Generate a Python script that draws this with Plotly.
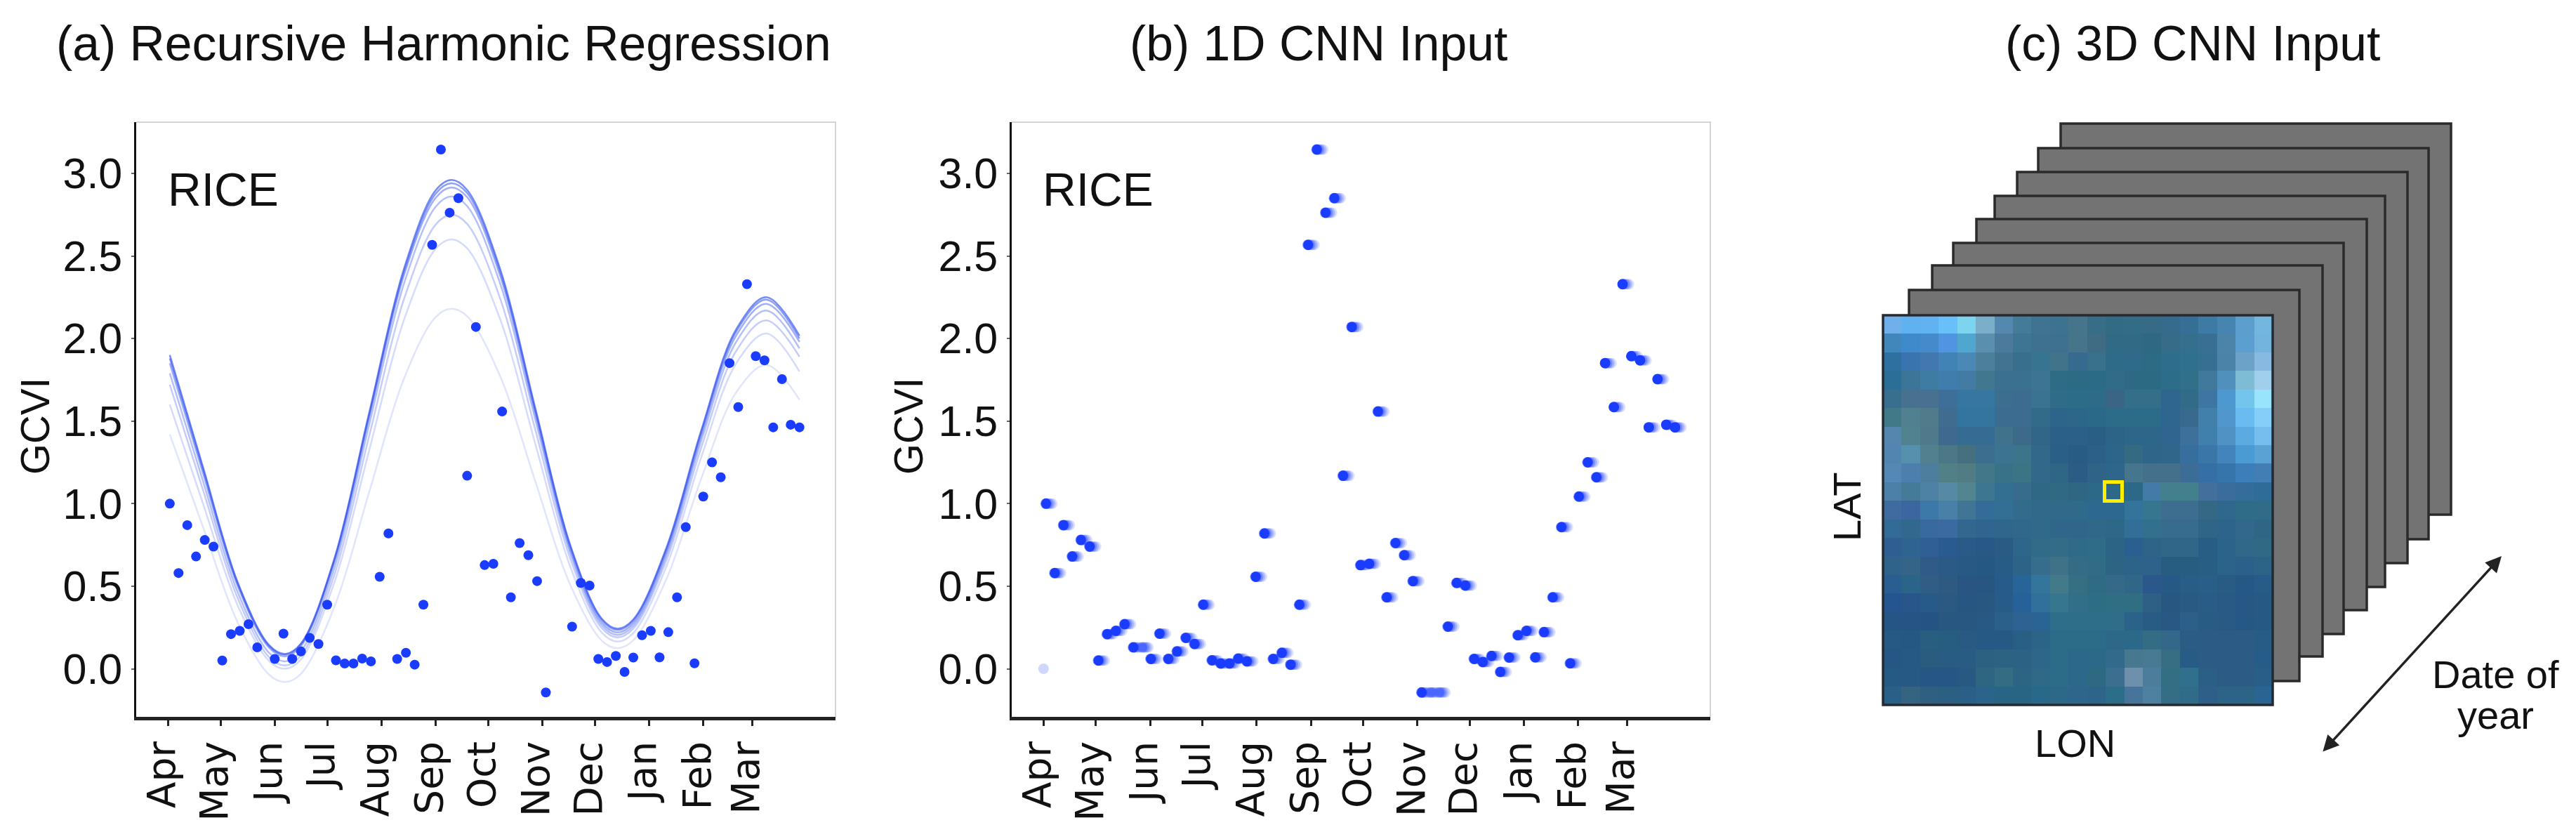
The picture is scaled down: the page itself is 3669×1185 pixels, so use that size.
import plotly.graph_objects as go

W, H = 3669, 1185
BLUE = "#1a3cff"
LINE = "#3050f0"

# ---------- data ----------
months = ["Apr", "May", "Jun", "Jul", "Aug", "Sep", "Oct", "Nov", "Dec", "Jan", "Feb", "Mar"]
month_days = [0, 30, 61, 91, 122, 153, 183, 214, 244, 275, 306, 334]
y_ticks = [0.0, 0.5, 1.0, 1.5, 2.0, 2.5, 3.0]

gcvi = [1.0, .58, .87, .68, .78, .74, .05, .21, .23, .27, .13, None, .06, .2125, .06, .105, .187, .15, .388,
        .051, .032, .032, .062, .045, .557, .82, .06, .097, .025, .388, 2.567, 3.144, 2.762, 2.85, 1.169, 2.07,
        .628, .636, 1.558, .433, .761, .688, .531, -.143, None, None, .255, .52, .504, .06, .041, .078, -.019,
        .068, .203, .23, .069, .222, .433, .858, .033, 1.043, 1.25, 1.16, 1.851, 1.585, 2.329, 1.893, 1.868,
        1.462, 1.754, 1.478, 1.462]
sample_days = list(range(1, 366, 5))

curve_days = [1, 20, 40, 58, 67, 76, 95, 115, 135, 153, 162, 171, 190, 210, 230, 248, 257, 266, 285, 305, 325, 342, 361]
curve1 = [1.90, 1.221, .519, .141, .09, .153, .664, 1.551, 2.426, 2.897, 2.96, 2.900, 2.417, 1.577, .748, .303, .243, .299, .735, 1.449, 2.059, 2.25, 2.017]
curve2 = [1.88, 1.207, .510, .135, .085, .148, .656, 1.538, 2.409, 2.877, 2.94, 2.881, 2.399, 1.563, .738, .295, .235, .291, .725, 1.437, 2.045, 2.235, 2.00]
curve3 = [1.85, 1.184, .496, .125, .075, .137, .643, 1.521, 2.387, 2.852, 2.915, 2.856, 2.376, 1.543, .721, .279, .22, .276, .708, 1.416, 2.021, 2.21, 1.98]
curve4 = [1.79, 1.136, .459, .094, .045, .107, .608, 1.478, 2.336, 2.798, 2.86, 2.802, 2.329, 1.509, .699, .263, .205, .260, .686, 1.386, 1.983, 2.17, 1.94]
curve5 = [1.72, 1.083, .423, .068, .02, .08, .566, 1.41, 2.242, 2.69, 2.75, 2.694, 2.238, 1.447, .666, .246, .19, .244, .66, 1.344, 1.928, 2.11, 1.89]
curve6 = [1.60, 1.0, .379, .045, 0, .057, .52, 1.323, 2.116, 2.543, 2.60, 2.546, 2.113, 1.361, .618, .219, .165, .217, .622, 1.286, 1.853, 2.03, 1.80]
curve7 = [1.42, .858, .276, -.038, -.08, -.03, .372, 1.07, 1.76, 2.13, 2.18, 2.135, 1.769, 1.134, .507, .170, .125, .173, .545, 1.156, 1.677, 1.84, 1.63]
curves = [curve7, curve6, curve5, curve4, curve3, curve2, curve1]
curve_opacity = [.14, .2, .28, .36, .45, .55, .65]

image_rows = [
    "6FB0EA 5FB1F0 60B2F0 68C0FA 7DD4EE 7BAFC9 5488AF 447C97 3F7390 3E7390 45748B 386D87 326C84 326D85 376B85 366B8E 366F96 3E7BA4 4585B0 5C9FCF 73B6DE",
    "4187BC 3F8ACB 448BCC 4F95E2 4FA6CF 5A8FAD 4C7A9D 3D7692 3E7190 3E7090 46748B 3F6C83 306A85 306A85 2F6883 366C88 356F8E 386F93 4A84A9 5A9FCF 73B4DC",
    "2E70A0 3A74AF 4078AF 4283B5 4A88B5 4C7F9A 42738F 376F8C 37748F 41748A 376A8F 39708A 2E6B88 306A8A 2D6A84 2E6E8C 30708F 356F92 4A82A8 6CA2C8 88B9E0",
    "2C6F96 3B7698 3E7CA4 407DAC 427CA5 42788F 3B7090 3B7190 3E7493 2E6B85 2D6A84 2C6B85 306C87 2D6982 2C6982 2C6E8A 32708A 40799B 5090BD 7DBCD4 9FCFEA",
    "386F8E 47718F 47718F 3D6F98 3676A0 3676A0 3C6E90 3C6C90 3A7291 2F6C88 2D6C88 2D6B88 3A6584 346F8A 346F8A 2E6690 306C88 3D76A0 4D98CE 74C5EE 97E4FC",
    "417989 518090 517A8A 406C90 3475A0 3475A0 3C6C90 3C6C90 326A8A 2C648A 2C6688 2B6988 2D6C88 2D6C88 2D6C88 2F6690 386A90 4280AC 5296CE 69BBF0 84CFFA",
    "5486AE 518290 50798C 3F698F 356C93 366C93 40728C 3D6A88 326688 2B6088 2B6088 2A5F85 2C6488 2C6688 2C6688 30658F 3E709C 4080AC 5092C4 5BAAE0 75BEEE",
    "5286B0 5590AC 52808F 4C7786 45717F 3C6F8F 3C7390 3C748C 32688A 2A6088 295C85 2C6088 2C648A 346A82 30658A 30668A 366F9D 3A77A8 4384BC 4A9AD4 5AA2D4",
    "5589B5 4C7FAC 4E7E9E 528087 527C84 427689 387288 3A7485 32688A 2E6685 2B5C85 2F6488 2D668A 46768E 44708C 44708C 3C6D96 366FA6 3674AC 3C7EB8 427DB4",
    "4C80A8 437B98 4D82A4 5689A4 528590 3C7690 336F90 376C8C 2F6885 306A82 2F6682 2C6888 2C6888 2C6888 427CA6 42808E 42808E 436F9C 3A6C9C 346C9C 306C98",
    "3F6BA0 3B66A0 3C78A8 4880A8 407596 346C98 336E95 336B8C 306A8B 306A8B 306A8B 2C6890 2C6890 34739C 36768E 3E6E8F 3E6E8F 356884 2F688C 2F6C88 306C88",
    "326C96 32688E 386AA0 3A6AA0 326890 2F658F 2F668C 2F688A 306A8A 2F6689 2F6689 2F6888 2E6888 326E96 32708E 386C8E 386C8E 2F6688 2C648C 32688C 2F6686",
    "2F5F92 2E648F 2F5F95 2A5B90 2A5B88 285885 2A5B85 2E658A 306C88 326C86 2F6A88 2E6C88 2C6486 2A6090 2E6488 306688 306688 285E85 2A648A 2F6888 2F6A84",
    "30638A 346488 305A88 2A5A85 285884 265884 265C85 2C6488 366C8C 407287 336C84 316C85 2D6484 2C6388 2E628A 285D82 285D82 285E84 2A648A 2A608A 2C6488",
    "285E90 2A6488 315C85 2E5A82 285582 285682 265C8A 286498 34759C 427A8A 346F84 306B84 346A88 306688 2A588A 265985 285E85 285F88 285C85 265885 285C88",
    "245590 28568A 285A88 2C5982 285682 285882 285C88 27619A 32709C 36768F 326E88 2D6E84 306E84 306E84 2D6084 285882 285A84 2A5C88 285A85 265785 265A85",
    "245585 265585 255483 285882 285882 285884 2A608A 2E6292 2A6494 2E6E8A 2E6E88 2E6E88 2F6D88 2A628A 285C84 2A5884 2C608A 285C85 285A85 265885 265A85",
    "265A84 265884 285F80 265E82 285A84 265A84 265984 285F85 2C6488 2C6C88 2C6C88 2C6C88 2E6888 2C6888 326C85 33688A 2A5C86 2C5C85 2C5C85 2C5C85 265C85",
    "265684 265A84 2A5C80 285C82 285C82 2C6182 2C6282 2C6284 2C6688 2C6C88 2C688A 2C6888 326A8C 46798F 487B93 386E84 265C85 2C5C85 2C5C85 2C5C85 265C88",
    "255A85 265A85 265784 265684 285982 2E6682 346C84 2C6484 2E6988 2C6C88 2C688A 2E6982 3C6E90 6E90AA 4C7E9C 326F84 30708C 2C5F86 2C5C85 2C5C85 285E88",
    "286088 346482 2F6082 2C6082 2A5F88 2A648A 286484 286484 286888 2C6888 2E658A 2D658A 2A6E8A 46749A 4D819F 346E86 306C88 2E5F88 2C6488 2C6488 2A6492",
]

# ---------- helpers ----------
def fx(p): return p / W
def fy(p): return 1 - p / H
def to_rgb(h): return [int(h[i:i + 2], 16) for i in (0, 2, 4)]

DOT_A, DOT_B = 14, 15
fig = go.Figure()

# panel (a)
for c, o in zip(curves, curve_opacity):
    fig.add_trace(go.Scatter(x=curve_days, y=c, mode="lines", opacity=o, xaxis="x", yaxis="y",
                             line=dict(color=LINE, width=2.5, shape="spline", smoothing=1.0), showlegend=False))
fig.add_trace(go.Scatter(x=sample_days, y=gcvi, mode="markers", xaxis="x", yaxis="y", showlegend=False,
                         marker=dict(color=BLUE, size=DOT_A)))

# panel (b): the input repeats the last value in missing slots and leaves a faint trail
filled, repeated, last = [], [], None
for v in gcvi:
    repeated.append(v is None)
    last = v if v is not None else last
    filled.append(last)
shift_solid = 0.4
fig.add_trace(go.Scatter(x=[0], y=[0], mode="markers", opacity=.2, xaxis="x2", yaxis="y2", showlegend=False,
                         marker=dict(color=BLUE, size=DOT_B)))
for extra, op in ((3.6, .18), (2.4, .25), (1.2, .35)):
    fig.add_trace(go.Scatter(x=[d + shift_solid + extra for d in sample_days], y=filled, mode="markers", opacity=op,
                             xaxis="x2", yaxis="y2", showlegend=False, marker=dict(color=BLUE, size=DOT_B)))
fig.add_trace(go.Scatter(x=[d + shift_solid for d, r in zip(sample_days, repeated) if r],
                         y=[v for v, r in zip(filled, repeated) if r], mode="markers", opacity=.45,
                         xaxis="x2", yaxis="y2", showlegend=False, marker=dict(color=BLUE, size=DOT_B)))
fig.add_trace(go.Scatter(x=[d + shift_solid for d, r in zip(sample_days, repeated) if not r],
                         y=[v for v, r in zip(filled, repeated) if not r], mode="markers",
                         xaxis="x2", yaxis="y2", showlegend=False, marker=dict(color=BLUE, size=DOT_B)))

# panel (c)
fig.add_trace(go.Image(z=[[to_rgb(h) for h in r.split()] for r in image_rows], xaxis="x3", yaxis="y3",
                       hoverinfo="skip"))

x_common = dict(range=[-18.4, 381.6], tickmode="array", tickvals=month_days, ticktext=months, tickangle=-90,
                tickfont=dict(family="DejaVu Sans", size=55, color="#111"), ticks="outside", ticklen=8, tickwidth=3,
                tickcolor="#222", showline=True, linecolor="#222", linewidth=5, showgrid=False, zeroline=False,
                ticklabelshift=-8)
y_common = dict(range=[-0.291, 3.31], tickmode="array", tickvals=y_ticks, ticktext=[f"{v:.1f}" for v in y_ticks],
                tickfont=dict(family="Liberation Sans", size=61, color="#111"), ticks="outside", ticklen=4, tickwidth=2,
                tickcolor="#666", showline=True, linecolor="#111", linewidth=3, showgrid=False, zeroline=False)

A = (193.5, 1190)
B = (1440.5, 2436)
top, bottom = 174, 1021
img = (2682, 3237, 449, 1004)

shapes = []
for x0, x1 in (A, B):
    shapes.append(dict(type="path", xref="paper", yref="paper", layer="below",
                       path=f"M {fx(x0)} {fy(top)} L {fx(x1)} {fy(top)} L {fx(x1)} {fy(bottom)}",
                       line=dict(color="#d4d4d4", width=2)))

stack_left = [2935, 2903, 2873, 2841, 2815, 2782, 2752, 2719]
stack_top = [176, 211, 245, 279, 312, 346, 378, 413]
stack_width, stack_height = 556, 557
for l, t in zip(stack_left, stack_top):
    shapes.append(dict(type="rect", xref="paper", yref="paper", layer="below",
                       x0=fx(l), x1=fx(l + stack_width), y0=fy(t + stack_height), y1=fy(t),
                       fillcolor="#737373", line=dict(color="#2a2a2a", width=3.5)))
shapes.append(dict(type="rect", xref="paper", yref="paper", layer="above",
                   x0=fx(img[0]), x1=fx(img[1]), y0=fy(img[3]), y1=fy(img[2]),
                   line=dict(color="#262a30", width=3.5)))
shapes.append(dict(type="rect", xref="paper", yref="paper", layer="above",
                   x0=fx(2997.5), x1=fx(3022.5), y0=fy(713.5), y1=fy(686.5),
                   line=dict(color="#ffee00", width=5)))

def label(text, cx, cy, size, angle=0, anchor="center", family="Liberation Sans"):
    return dict(text=text, x=fx(cx), y=fy(cy), xref="paper", yref="paper", showarrow=False, xanchor=anchor,
                yanchor="middle", textangle=angle, font=dict(family=family, size=size, color="#111"))

annotations = [
    label("(a) Recursive Harmonic Regression", 632, 62, 69.7),
    label("(b) 1D CNN Input", 1878, 62, 69.7),
    label("(c) 3D CNN Input", 3123, 62, 69.7),
    label("RICE", 237, 270, 66, anchor="left"),
    label("RICE", 1483, 270, 66, anchor="left"),
    label("GCVI", 50, 607, 56.5, angle=-90),
    label("GCVI", 1294, 607, 56.5, angle=-90),
    label("LON", 2955, 1058, 56),
    label("LAT", 2630, 722, 56, angle=-90),
    label("Date of", 3554, 960, 56),
    label("year", 3554, 1018, 56),
    dict(text="", x=fx(3563), y=fy(792), xref="paper", yref="paper", axref="pixel", ayref="pixel",
         ax=3307 - 3563, ay=1072 - 792, showarrow=True, arrowhead=2, arrowside="end+start",
         arrowsize=1.3, arrowwidth=3.5, arrowcolor="#222"),
]

fig.update_layout(
    width=W, height=H, margin=dict(l=0, r=0, t=0, b=0), paper_bgcolor="white", plot_bgcolor="rgba(0,0,0,0)",
    showlegend=False, shapes=shapes, annotations=annotations,
    xaxis=dict(domain=[fx(A[0]), fx(A[1])], anchor="y", **x_common),
    yaxis=dict(domain=[fy(bottom), fy(top)], anchor="x", **y_common),
    xaxis2=dict(domain=[fx(B[0]), fx(B[1])], anchor="y2", **x_common),
    yaxis2=dict(domain=[fy(bottom), fy(top)], anchor="x2", **y_common),
    xaxis3=dict(domain=[fx(img[0]), fx(img[1])], anchor="y3", range=[-0.5, 20.5], visible=False),
    yaxis3=dict(domain=[fy(img[3]), fy(img[2])], anchor="x3", range=[20.5, -0.5], visible=False),
)

fig.write_html("out.html", config={"displayModeBar": False},
               post_script="document.body.style.margin='0';document.body.style.overflow='hidden';")
